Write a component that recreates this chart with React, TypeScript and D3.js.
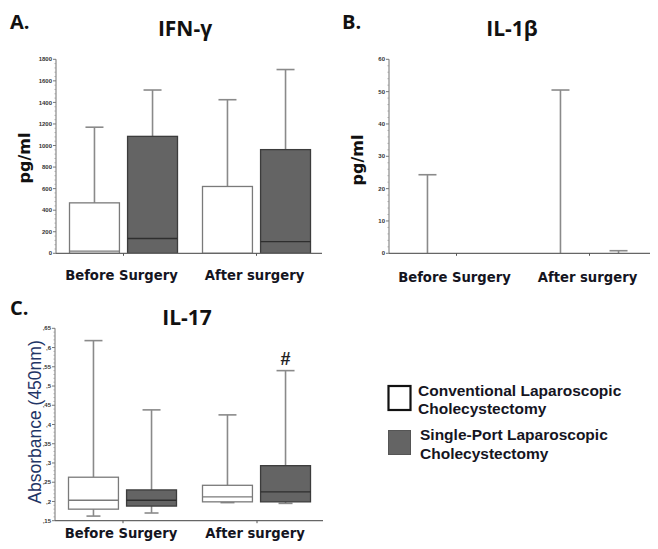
import React from "react";
import * as d3 from "d3";

// categories and groups
const categories = ["Before Surgery", "After surgery"];
const groups = ["conv", "single"];
const legendLabels = [
  ["Conventional Laparoscopic", "Cholecystectomy"],
  ["Single-Port Laparoscopic", "Cholecystectomy"],
];

type Stat = { min: number; q1: number; median: number; q3: number; max: number };

// IFN-γ (pg/ml)
const ifnConv: Stat[] = [
  { min: 0, q1: 0, median: 20, q3: 468, max: 1170 },
  { min: 0, q1: 0, median: 0, q3: 620, max: 1425 },
];
const ifnSingle: Stat[] = [
  { min: 0, q1: 0, median: 137, q3: 1085, max: 1515 },
  { min: 0, q1: 0, median: 108, q3: 962, max: 1705 },
];
const ifnTicks = [0, 200, 400, 600, 800, 1000, 1200, 1400, 1600, 1800];

// IL-1β (pg/ml)
const il1Conv: Stat[] = [
  { min: 0, q1: 0, median: 0, q3: 0, max: 24.3 },
  { min: 0, q1: 0, median: 0, q3: 0, max: 50.5 },
];
const il1Single: Stat[] = [
  { min: 0, q1: 0, median: 0, q3: 0, max: 0 },
  { min: 0, q1: 0, median: 0, q3: 0, max: 0.8 },
];
const il1Ticks = [0, 10, 20, 30, 40, 50, 60];

// IL-17 (absorbance 450nm)
const il17Conv: Stat[] = [
  { min: 0.162, q1: 0.18, median: 0.203, q3: 0.263, max: 0.618 },
  { min: 0.197, q1: 0.199, median: 0.212, q3: 0.242, max: 0.425 },
];
const il17Single: Stat[] = [
  { min: 0.17, q1: 0.188, median: 0.203, q3: 0.23, max: 0.438 },
  { min: 0.195, q1: 0.199, median: 0.225, q3: 0.293, max: 0.54 },
];
const il17Ticks = [0.15, 0.2, 0.25, 0.3, 0.35, 0.4, 0.45, 0.5, 0.55, 0.6, 0.65];

const DARK = "#646464";
const WHISK = "#8a8a8a";
const TXT = "#15151f";

type PanelProps = {
  xl: number;
  xr: number;
  yt: number;
  yb: number;
  ticks: number[];
  fmt: (d: number) => string;
  conv: Stat[];
  single: Stat[];
  mark?: boolean;
  labelY: number;
};

function Panel({ xl, xr, yt, yb, ticks, fmt, conv, single, mark, labelY }: PanelProps) {
  const y = d3.scaleLinear().domain([ticks[0], ticks[ticks.length - 1]]).range([yb, yt]);
  const x = d3.scaleBand().domain(categories).range([xl + 1, xr + 1]);
  const sub = d3.scaleBand().domain(groups).range([12.5, 120.5]).paddingInner(0.14);
  const bw = sub.bandwidth();
  const step = ticks[1] - ticks[0];
  const minor: number[] = [];
  ticks.slice(0, -1).forEach((t) => {
    for (let k = 1; k < 5; k++) minor.push(t + (step * k) / 5);
  });
  const cap = 9;

  return (
    <g>
      {/* y axis */}
      <line x1={xl} x2={xl} y1={yt} y2={yb} stroke="#8a8a8a" strokeWidth={1.2} />
      {minor.map((m, i) => (
        <line key={"m" + i} x1={xl - 1.5} x2={xl} y1={y(m)} y2={y(m)} stroke="#999" strokeWidth={0.8} />
      ))}
      {ticks.map((t) => (
        <g key={t}>
          <line x1={xl - 3} x2={xl} y1={y(t)} y2={y(t)} stroke="#777" strokeWidth={1} />
          <text
            x={xl - 4}
            y={y(t)}
            dy="0.35em"
            textAnchor="end"
            fontSize={6}
            fontWeight="bold"
            fontFamily="Liberation Sans, Arial, sans-serif"
            fill="#333"
          >
            {fmt(t)}
          </text>
        </g>
      ))}
      {/* boxes */}
      {categories.map((c, i) =>
        [conv[i], single[i]].map((s, j) => {
          const x0 = (x(c) as number) + (sub(groups[j]) as number);
          const cx = x0 + bw / 2;
          const fill = j === 0 ? "#fff" : DARK;
          const stroke = j === 0 ? "#7a7a7a" : "#3c3c3c";
          return (
            <g key={c + j}>
              {s.max > s.q3 && (
                <>
                  <line x1={cx} x2={cx} y1={y(s.q3)} y2={y(s.max)} stroke={WHISK} strokeWidth={1.6} />
                  <line x1={cx - cap} x2={cx + cap} y1={y(s.max)} y2={y(s.max)} stroke={WHISK} strokeWidth={1.6} />
                </>
              )}
              {s.min < s.q1 && (
                <>
                  <line x1={cx} x2={cx} y1={y(s.q1)} y2={y(s.min)} stroke={WHISK} strokeWidth={1.6} />
                  <line x1={cx - 7} x2={cx + 7} y1={y(s.min)} y2={y(s.min)} stroke={WHISK} strokeWidth={1.6} />
                </>
              )}
              {s.q3 > s.q1 && (
                <rect
                  x={x0}
                  y={y(s.q3)}
                  width={bw}
                  height={y(s.q1) - y(s.q3)}
                  fill={fill}
                  stroke={stroke}
                  strokeWidth={1.3}
                />
              )}
              {s.q3 > s.q1 && s.median > s.q1 && (
                <line
                  x1={x0}
                  x2={x0 + bw}
                  y1={y(s.median)}
                  y2={y(s.median)}
                  stroke={j === 0 ? "#7a7a7a" : "#2e2e2e"}
                  strokeWidth={1.4}
                />
              )}
              {mark && i === 1 && j === 1 && (
                <text
                  x={cx}
                  y={y(s.max) - 6}
                  textAnchor="middle"
                  fontSize={18}
                  fontWeight="bold"
                  fontFamily="Liberation Sans, Arial, sans-serif"
                  fill="#222"
                >
                  #
                </text>
              )}
            </g>
          );
        })
      )}
      {/* x axis */}
      <line x1={xl} x2={xr} y1={yb} y2={yb} stroke="#666" strokeWidth={1.2} />
      {categories.map((c) => {
        const cx = (x(c) as number) + x.bandwidth() / 2;
        return (
          <g key={c}>
            <line x1={cx} x2={cx} y1={yb} y2={yb + 2.5} stroke="#555" strokeWidth={1} />
            <text
              x={cx - 2}
              y={labelY}
              textAnchor="middle"
              fontSize={13.2}
              fontWeight="bold"
              fontFamily="DejaVu Sans, Verdana, sans-serif"
              fill={TXT}
            >
              {c}
            </text>
          </g>
        );
      })}
    </g>
  );
}

const titleFont = "Open Sans, sans-serif";

export default function App() {
  const comma = (d: number) => "," + d.toFixed(2).slice(2).replace(/0$/, "");
  return (
    <svg width={658} height={549} style={{ display: "block", margin: "-8px", background: "#fff" }}>
      {/* Panel A */}
      <text x={10} y={29} fontSize={20} fontWeight="bold" fontFamily={titleFont} fill="#111">A.</text>
      <text x={185} y={36} textAnchor="middle" fontSize={21} fontWeight="bold" fontFamily={titleFont} fill="#111">IFN-γ</text>
      <text
        transform="translate(30,158) rotate(-90)"
        textAnchor="middle"
        fontSize={16}
        fontWeight="bold"
        fontFamily="DejaVu Sans, sans-serif"
        fill="#111"
      >
        pg/ml
      </text>
      <Panel xl={56} xr={322} yt={59.3} yb={253.3} ticks={ifnTicks} fmt={(d) => String(d)} conv={ifnConv} single={ifnSingle} labelY={280} />

      {/* Panel B */}
      <text x={342} y={29} fontSize={20} fontWeight="bold" fontFamily={titleFont} fill="#111">B.</text>
      <text x={512} y={36} textAnchor="middle" fontSize={21} fontWeight="bold" fontFamily={titleFont} fill="#111">IL-1β</text>
      <text
        transform="translate(363,160) rotate(-90)"
        textAnchor="middle"
        fontSize={16}
        fontWeight="bold"
        fontFamily="DejaVu Sans, sans-serif"
        fill="#111"
      >
        pg/ml
      </text>
      <Panel xl={389} xr={655} yt={59.3} yb={253.3} ticks={il1Ticks} fmt={(d) => String(d)} conv={il1Conv} single={il1Single} labelY={282} />

      {/* Panel C */}
      <text x={10} y={315} fontSize={20} fontWeight="bold" fontFamily={titleFont} fill="#111">C.</text>
      <text x={187} y={325} textAnchor="middle" fontSize={21} fontWeight="bold" fontFamily={titleFont} fill="#111">IL-17</text>
      <text
        transform="translate(41,422) rotate(-90)"
        textAnchor="middle"
        fontSize={17.5}
        fontFamily="Liberation Sans, Arial, sans-serif"
        fill="#1f3566"
      >
        Absorbance (450nm)
      </text>
      <Panel xl={55} xr={323} yt={328.3} yb={520.7} ticks={il17Ticks} fmt={comma} conv={il17Conv} single={il17Single} mark labelY={538} />

      {/* Legend */}
      {legendLabels.map((lines, i) => (
        <g key={i} transform={`translate(0,${i * 44.5})`}>
          <rect
            x={388.5}
            y={386}
            width={22}
            height={24}
            fill={i === 0 ? "#fff" : DARK}
            stroke={i === 0 ? "#111" : "#555"}
            strokeWidth={i === 0 ? 2.2 : 1}
          />
          {lines.map((l, k) => (
            <text
              key={k}
              x={418 + i * 2}
              y={395.5 + k * 18.5}
              fontSize={15.5}
              fontWeight="bold"
              fontFamily="Liberation Sans, Arial, sans-serif"
              fill={TXT}
            >
              {l}
            </text>
          ))}
        </g>
      ))}
    </svg>
  );
}
